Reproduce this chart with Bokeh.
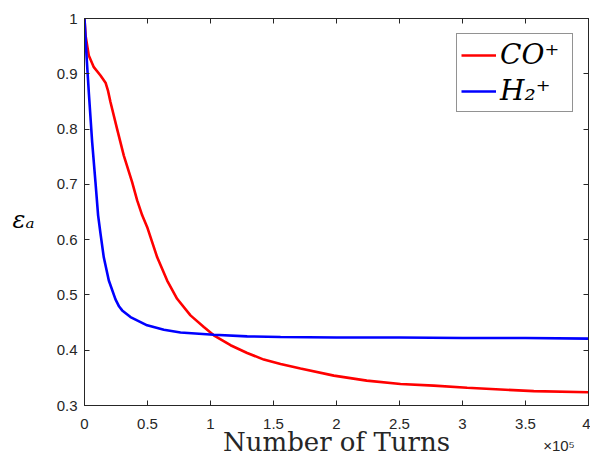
from bokeh.plotting import figure
from bokeh.models import (Range1d, LinearAxis, FixedTicker, CustomJSTickFormatter,
                          Legend, LegendItem)
from bokeh.embed import file_html
from bokeh.resources import INLINE

# ---- data (x in turns) ----
co_turns = [0, 800, 3400, 7400, 12700, 16700, 18700, 20600, 25900, 31200, 37800, 41800,
            45800, 49700, 57700, 65600, 73500, 84100, 94700, 102600, 115900,
            129100, 142300, 155600, 171400, 197900, 224000, 250800, 277200,
            303700, 330200, 356600, 400000]
co_eps = [1.0, 0.970, 0.933, 0.912, 0.897, 0.884, 0.869, 0.849, 0.800, 0.752, 0.704, 0.671,
          0.644, 0.623, 0.568, 0.526, 0.493, 0.463, 0.442, 0.427, 0.409,
          0.395, 0.383, 0.375, 0.367, 0.354, 0.345, 0.339, 0.336,
          0.332, 0.329, 0.326, 0.324]

h2_turns = [0, 1600, 3400, 6100, 8700, 10800, 12700, 15300, 19300, 24600, 27500, 29900,
            36500, 49700, 63000, 76200, 102600, 129100, 155600, 200000, 250000,
            300000, 350000, 400000]
h2_eps = [1.0, 0.933, 0.867, 0.776, 0.704, 0.644, 0.611, 0.568, 0.526, 0.492, 0.479, 0.472,
          0.460, 0.445, 0.437, 0.432, 0.428, 0.425, 0.424, 0.423, 0.423,
          0.422, 0.422, 0.421]

x_ticks = [0, 50000, 100000, 150000, 200000, 250000, 300000, 350000, 400000]
y_ticks = [0.3, 0.4, 0.5, 0.6, 0.7, 0.8, 0.9, 1.0]

series_labels = ["CO\u207a", "H\u2082\u207a"]
axis_x_label = "Number of Turns"
axis_y_label = "\u03b5\u2090"
x_multiplier = "\u00d710\u2075"

AX = "#262626"

p = figure(width=590, height=461, output_backend="svg", toolbar_location=None,
           x_range=Range1d(0, 400000), y_range=Range1d(0.3, 1.0),
           min_border_left=84, min_border_right=2, min_border_top=18,
           min_border_bottom=56)
p.grid.visible = False
p.outline_line_color = AX
p.background_fill_color = "white"
p.border_fill_color = "white"

xfmt = CustomJSTickFormatter(code="return String(Number((tick/1e5).toFixed(2)));")
yfmt = CustomJSTickFormatter(code="return String(Number(tick.toFixed(2)));")
blank = CustomJSTickFormatter(code="return '';")

def style_axis(ax):
    ax.axis_line_color = AX
    ax.major_tick_line_color = AX
    ax.major_tick_in = 5
    ax.major_tick_out = 0
    ax.minor_tick_line_color = None
    ax.major_label_text_font = "Liberation Sans"
    ax.major_label_text_font_size = "15px"
    ax.major_label_text_color = AX

xa = p.xaxis[0]
xa.ticker = FixedTicker(ticks=x_ticks)
xa.formatter = xfmt
style_axis(xa)
xa.major_label_standoff = 13

ya = p.yaxis[0]
ya.ticker = FixedTicker(ticks=y_ticks)
ya.formatter = yfmt
style_axis(ya)
ya.major_label_standoff = 7

# second, bare axis below: carries the exponent note and the x title
xb = LinearAxis(ticker=FixedTicker(ticks=[376600]),
                major_label_overrides={376600: x_multiplier})
xb.axis_line_color = None
xb.major_tick_line_color = None
xb.minor_tick_line_color = None
xb.major_tick_in = 0
xb.major_tick_out = 0
xb.major_label_text_font = "Liberation Sans"
xb.major_label_text_font_size = "15px"
xb.major_label_text_color = AX
xb.major_label_standoff = 5
xb.axis_label = axis_x_label
xb.axis_label_text_font = "DejaVu Serif"
xb.axis_label_text_font_style = "normal"
xb.axis_label_text_font_size = "26px"
xb.axis_label_text_color = AX
xb.axis_label_standoff = -30
p.add_layout(xb, "below")

# second, bare axis at left: carries the (horizontal) y title
yb = LinearAxis(ticker=FixedTicker(ticks=[0.635]),
                major_label_overrides={0.635: axis_y_label})
yb.axis_line_color = None
yb.major_tick_line_color = None
yb.minor_tick_line_color = None
yb.major_tick_in = 0
yb.major_tick_out = 0
yb.major_label_text_font = "DejaVu Serif"
yb.major_label_text_font_style = "italic"
yb.major_label_text_font_size = "24px"
yb.major_label_text_color = "black"
yb.major_label_standoff = 19
p.add_layout(yb, "left")

top = LinearAxis(ticker=FixedTicker(ticks=x_ticks), formatter=blank)
style_axis(top)
top.major_label_standoff = 0
top.major_label_text_font_size = "1px"
p.add_layout(top, "above")
right = LinearAxis(ticker=FixedTicker(ticks=y_ticks), formatter=blank)
style_axis(right)
right.major_label_standoff = 0
right.major_label_text_font_size = "1px"
p.add_layout(right, "right")

r1 = p.line(co_turns, co_eps, line_color="#ff0000", line_width=2.6)
r2 = p.line(h2_turns, h2_eps, line_color="#0000ff", line_width=2.6)

legend = Legend(items=[LegendItem(label=series_labels[0], renderers=[r1]),
                       LegendItem(label=series_labels[1], renderers=[r2])],
                location="top_right", margin=15, padding=4, spacing=3,
                glyph_width=35, glyph_height=30, label_height=30, label_width=68,
                label_standoff=4,
                label_text_font="DejaVu Serif", label_text_font_style="italic",
                label_text_font_size="28px", label_text_color="black",
                border_line_color="#262626", border_line_width=1,
                background_fill_color="white", background_fill_alpha=1)
p.add_layout(legend)

open("out.html", "w").write(file_html(p, INLINE))
